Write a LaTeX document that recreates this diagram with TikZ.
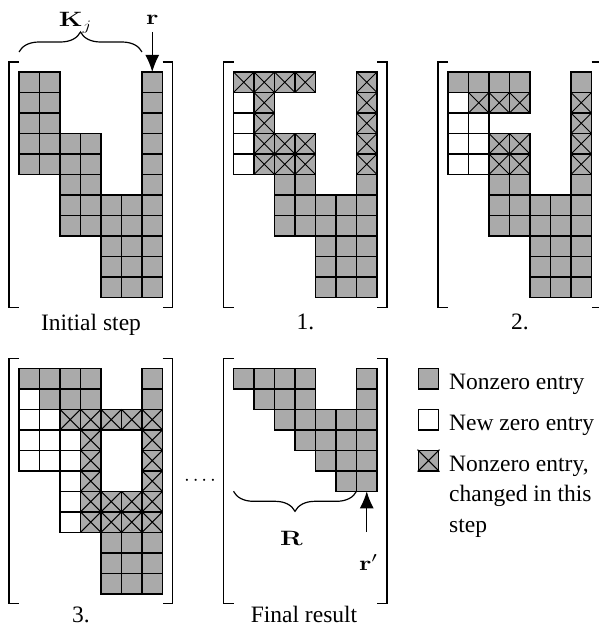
\documentclass[tikz,border=0pt]{standalone}
\usepackage[no-math]{fontspec}
\setmainfont{Liberation Serif}
\usetikzlibrary{decorations.pathreplacing,arrows.meta,calc}
\definecolor{nzgray}{RGB}{170,170,170}

% side of one matrix entry
\newcommand\cellsz{20.5}
% nonzero, new zero and changed entries at column #1, row #2
\newcommand\nzc[2]{\filldraw[nzcell] ({#1*\cellsz},{#2*\cellsz}) rectangle ++(\cellsz,\cellsz);}
\newcommand\zrc[2]{\filldraw[zrcell] ({#1*\cellsz},{#2*\cellsz}) rectangle ++(\cellsz,\cellsz);}
\newcommand\chc[2]{\filldraw[nzcell] ({#1*\cellsz},{#2*\cellsz}) rectangle ++(\cellsz,\cellsz);
  \draw[crossline] ({#1*\cellsz},{#2*\cellsz}) -- ++(\cellsz,\cellsz) ++(0,-\cellsz) -- ++(-\cellsz,\cellsz);}
% one row: kind #1, row #2, columns #3
\newcommand\cellrow[3]{\foreach \cc in {#3}{#1{\cc}{#2}}}
% matrix brackets round a 7x11 grid whose top left corner is at the origin
\newcommand\brackets{%
  \draw[bracketline] (0,-10) -- (-10,-10) -- (-10,{11*\cellsz+10}) -- (0,{11*\cellsz+10});
  \draw[bracketline] ({7*\cellsz},-10) -- ({7*\cellsz+10},-10) -- ({7*\cellsz+10},{11*\cellsz+10}) -- ({7*\cellsz},{11*\cellsz+10});}
% wide bold math symbols
\newcommand\wmath[1]{\scalebox{1.3}[1]{$#1$}}

\tikzset{
  nzcell/.style={fill=nzgray, draw=black, line width=1.4pt},
  zrcell/.style={fill=white, draw=black, line width=1.4pt},
  crossline/.style={draw=black, line width=1pt},
  bracketline/.style={draw=black, line width=1.3pt},
  lbl/.style={font=\fontsize{23.5}{30.5}\selectfont, inner sep=0pt},
  mlbl/.style={font=\fontsize{20.74}{25}\selectfont, inner sep=0pt},
  bracebig/.style={decorate, decoration={brace, amplitude=20pt}, line width=1.2pt},
  pointer/.style={-{Latex[length=17pt,width=14pt]}, line width=1.3pt},
  legbox/.style={draw=black, line width=1.4pt, minimum size=20.5pt, inner sep=0pt},
}

\begin{document}
\begin{tikzpicture}[x=1pt,y=-1pt]
\useasboundingbox (0,0) rectangle (599,634);

% initial step
\begin{scope}[shift={(19,72)}]
  \foreach \rr in {0,1,2} {\cellrow{\nzc}{\rr}{0,1,6}}
  \foreach \rr in {3,4} {\cellrow{\nzc}{\rr}{0,1,2,3,6}}
  \cellrow{\nzc}{5}{2,3,6}
  \foreach \rr in {6,7} {\cellrow{\nzc}{\rr}{2,3,4,5,6}}
  \foreach \rr in {8,9,10} {\cellrow{\nzc}{\rr}{4,5,6}}
  \brackets
  \coordinate (rtop) at ({6.5*\cellsz},0);
  \coordinate (kl) at (0,-20);
  \coordinate (kr) at ({6*\cellsz},-20);
\end{scope}

% step 1
\begin{scope}[shift={(233.5,72)}]
  \cellrow{\chc}{0}{0,1,2,3,6}
  \foreach \rr in {1,2} {\cellrow{\zrc}{\rr}{0}\cellrow{\chc}{\rr}{1,6}}
  \foreach \rr in {3,4} {\cellrow{\zrc}{\rr}{0}\cellrow{\chc}{\rr}{1,2,3,6}}
  \cellrow{\nzc}{5}{2,3,6}
  \foreach \rr in {6,7} {\cellrow{\nzc}{\rr}{2,3,4,5,6}}
  \foreach \rr in {8,9,10} {\cellrow{\nzc}{\rr}{4,5,6}}
  \brackets
\end{scope}

% step 2
\begin{scope}[shift={(448,72)}]
  \cellrow{\nzc}{0}{0,1,2,3,6}
  \cellrow{\zrc}{1}{0}\cellrow{\chc}{1}{1,2,3,6}
  \cellrow{\zrc}{2}{0,1}\cellrow{\chc}{2}{6}
  \foreach \rr in {3,4} {\cellrow{\zrc}{\rr}{0,1}\cellrow{\chc}{\rr}{2,3,6}}
  \cellrow{\nzc}{5}{2,3,6}
  \foreach \rr in {6,7} {\cellrow{\nzc}{\rr}{2,3,4,5,6}}
  \foreach \rr in {8,9,10} {\cellrow{\nzc}{\rr}{4,5,6}}
  \brackets
\end{scope}

% step 3
\begin{scope}[shift={(19,368.3)}]
  \cellrow{\nzc}{0}{0,1,2,3,6}
  \cellrow{\zrc}{1}{0}\cellrow{\nzc}{1}{1,2,3,6}
  \cellrow{\zrc}{2}{0,1}\cellrow{\chc}{2}{2,3,4,5,6}
  \foreach \rr in {3,4} {\cellrow{\zrc}{\rr}{0,1,2}\cellrow{\chc}{\rr}{3,6}}
  \cellrow{\zrc}{5}{2}\cellrow{\chc}{5}{3,6}
  \foreach \rr in {6,7} {\cellrow{\zrc}{\rr}{2}\cellrow{\chc}{\rr}{3,4,5,6}}
  \foreach \rr in {8,9,10} {\cellrow{\nzc}{\rr}{4,5,6}}
  \brackets
\end{scope}

% final result
\begin{scope}[shift={(233.5,368.3)}]
  \cellrow{\nzc}{0}{0,1,2,3,6}
  \cellrow{\nzc}{1}{1,2,3,6}
  \cellrow{\nzc}{2}{2,3,4,5,6}
  \cellrow{\nzc}{3}{3,4,5,6}
  \cellrow{\nzc}{4}{4,5,6}
  \cellrow{\nzc}{5}{5,6}
  \brackets
  \coordinate (rbot) at ({6.5*\cellsz},{6*\cellsz});
  \coordinate (bl) at (0,{6*\cellsz});
  \coordinate (br) at ({6*\cellsz},{6*\cellsz});
\end{scope}

% labels and pointers
\draw[bracebig] (kl) -- (kr);
\node[mlbl, anchor=base] (kj) at ($(kl)!0.5!(kr) + (-5,-25)$) {\wmath{\mathbf{K}_j}};
\node[mlbl, anchor=base] (rlab) at (rtop |- 0,25) {\wmath{\mathbf{r}}};
\draw[pointer] (rlab.south |- 0,32) -- (rtop);

\draw[bracebig] (br) -- (bl);
\node[mlbl, anchor=base west] (rmat) at (280,545) {\wmath{\mathbf{R}}};
\node[mlbl, anchor=base west] (rplab) at (359,570) {\wmath{\mathbf{r}'}};
\coordinate (rpfoot) at (rbot |- 0,532);
\draw[pointer] (rpfoot) -- (rbot);

\node[mlbl, anchor=base] (dots) at (200,485) {${\cdot}\mkern2.5mu{\cdot}\mkern2.5mu{\cdot}\mkern2.5mu{\cdot}$};

\node[lbl, anchor=base] (cap0) at (91,330) {Initial step};
\node[lbl, anchor=base] (cap1) at (305.5,329) {1.};
\node[lbl, anchor=base] (cap2) at (520,329) {2.};
\node[lbl, anchor=base] (cap3) at (81,622) {3.};
\node[lbl, anchor=base] (cap4) at (304,622) {Final result};

% legend
\node[legbox, fill=nzgray] (lg1) at (428.5,378.6) {};
\node[legbox, fill=white] (lg2) at (428.5,419.6) {};
\node[legbox, fill=nzgray] (lg3) at (428.5,460.6) {};
\draw[crossline] (lg3.north west) -- (lg3.south east) (lg3.north east) -- (lg3.south west);
\node[lbl, anchor=base west] (lt1) at (449,389) {Nonzero entry};
\node[lbl, anchor=base west] (lt2) at (449,430) {New zero entry};
\node[lbl, anchor=base west] (lt3) at (449,471) {Nonzero entry,};
\node[lbl, anchor=base west] (lt4) at (449,501.5) {changed in this};
\node[lbl, anchor=base west] (lt5) at (449,532) {step};
\end{tikzpicture}
\end{document}
